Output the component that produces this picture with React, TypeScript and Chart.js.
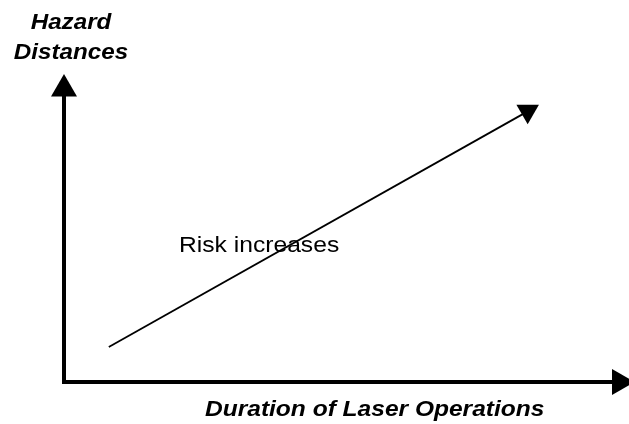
import React, { useEffect, useRef } from "react";
import { Chart, registerables } from "chart.js";

Chart.register(...registerables);

// Conceptual diagram data (arbitrary units 0..100)
const riskX = [8.0, 82.8];
const riskY = [11.3, 87.3];
const yAxisX = [0, 0];
const yAxisY = [0, 94.5];
const xAxisX = [0, 99.2];
const xAxisY = [0, 0];

const yTitleLines = ["Hazard", "Distances"];
const xTitle = "Duration of Laser Operations";
const riskLabel = "Risk increases";

const FONT = "'Liberation Sans', Arial, sans-serif";

function toPts(xs: number[], ys: number[]) {
  return xs.map((x, i) => ({ x, y: ys[i] }));
}

const textPlugin = {
  id: "diagramText",
  afterDraw(chart: any) {
    const ctx = chart.ctx as CanvasRenderingContext2D;
    const draw = (
      txt: string,
      x: number,
      y: number,
      font: string,
      align: "left" | "center",
      stretch: number
    ) => {
      ctx.save();
      ctx.font = font;
      ctx.fillStyle = "#000";
      ctx.textBaseline = "alphabetic";
      ctx.translate(x, y);
      ctx.scale(stretch, 1);
      const w = ctx.measureText(txt).width;
      const dx = align === "center" ? -w / 2 : 0;
      ctx.fillText(txt, dx, 0);
      ctx.restore();
    };
    const titleFont = `italic bold 22px ${FONT}`;
    draw(yTitleLines[0], 71, 29, titleFont, "center", 1.1);
    draw(yTitleLines[1], 71, 59, titleFont, "center", 1.1);
    draw(riskLabel, 179, 252, `22px ${FONT}`, "left", 1.12);
    draw(xTitle, 205, 416, titleFont, "left", 1.115);
  },
};

export default function App() {
  const ref = useRef<HTMLCanvasElement | null>(null);
  useEffect(() => {
    if (!ref.current) return;
    const chart = new Chart(ref.current, {
      type: "line",
      data: {
        datasets: [
          {
            data: toPts(yAxisX, yAxisY),
            borderColor: "#000",
            backgroundColor: "#000",
            borderWidth: 4,
            borderCapStyle: "square",
            pointStyle: "triangle",
            pointRadius: [0, 15],
            pointRotation: 0,
            pointBorderWidth: 0,
            clip: false,
          },
          {
            data: toPts(xAxisX, xAxisY),
            borderColor: "#000",
            backgroundColor: "#000",
            borderWidth: 4,
            borderCapStyle: "square",
            pointStyle: "triangle",
            pointRadius: [0, 15],
            pointRotation: 90,
            pointBorderWidth: 0,
            clip: false,
          },
          {
            data: toPts(riskX, riskY),
            borderColor: "#000",
            backgroundColor: "#000",
            borderWidth: 1.8,
            pointStyle: "triangle",
            pointRadius: [0, 13],
            pointRotation: 180,
            pointBorderWidth: 0,
            clip: false,
          },
        ],
      },
      options: {
        animation: false,
        responsive: false,
        devicePixelRatio: 1,
        layout: { autoPadding: false, padding: { left: 64, right: 5, top: 72, bottom: 42 } },
        plugins: { legend: { display: false }, tooltip: { enabled: false } },
        scales: {
          x: { type: "linear", min: 0, max: 100, display: false },
          y: { type: "linear", min: 0, max: 100, display: false },
        },
      } as any,
      plugins: [textPlugin],
    } as any);
    return () => chart.destroy();
  }, []);
  return (
    <div style={{ position: "fixed", left: 0, top: 0, width: 629, height: 424, background: "#fff" }}>
      <canvas ref={ref} width={629} height={424} style={{ display: "block" }} />
    </div>
  );
}
